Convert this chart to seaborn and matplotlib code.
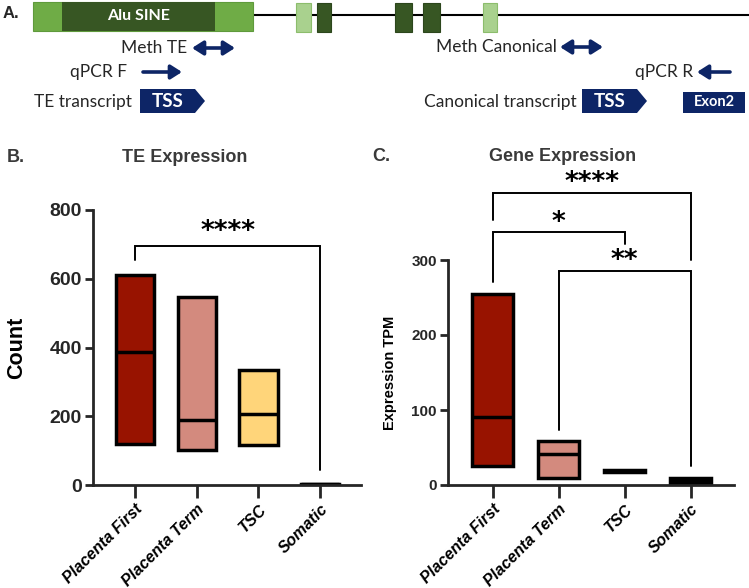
import pandas as pd
import seaborn as sns
import matplotlib.pyplot as plt
from matplotlib.patches import Rectangle, Polygon

#%% data
groups = ['Placenta First', 'Placenta Term', 'TSC', 'Somatic']
colors = ['#981300', '#d38a7e', '#ffd57a', '#c98a80']

# floating bars: min to max, line at median
te_min = [118, 102, 116, 0]
te_median = [387, 189, 207, 2]
te_max = [611, 547, 335, 4]

gene_min = [25, 10, 18, 1]
gene_median = [91, 41, 19, 5]
gene_max = [255, 59, 20, 10]


def floating_table(lo, med, hi):
    # five points per group so that box edges = min/max and median line = median
    rows = []
    for g, a, m, b in zip(groups, lo, med, hi):
        for v in (a, a, m, b, b):
            rows.append((g, v))
    return pd.DataFrame(rows, columns=['group', 'value'])


te_df = floating_table(te_min, te_median, te_max)
gene_df = floating_table(gene_min, gene_median, gene_max)

#%% style
sns.set_theme(style='ticks')
plt.rcParams['font.family'] = ['Liberation Sans', 'DejaVu Sans']
dark = '#3a3a3a'
navy = '#0d2566'

W, H = 749, 588
fig = plt.figure(figsize=(W / 100, H / 100), dpi=100)


def fx(px):
    return px / W


def fy(py):
    return 1 - py / H


#%% panel A schematic (pixel coordinates)
axa = fig.add_axes([0, fy(125), 1, 125 / H])
axa.set_xlim(0, W)
axa.set_ylim(125, 0)
axa.axis('off')

axa.plot([253, 749], [15, 15], color='black', lw=1.5, zorder=1)
axa.add_patch(Rectangle((33, 2), 220, 29, fc='#6fac46', ec='#5f9a3c', lw=0.8, zorder=2))
axa.add_patch(Rectangle((62, 2), 153, 29, fc='#375623', ec='none', zorder=3))
axa.text(139, 16, 'Alu SINE', color='white', fontsize=11.5, fontweight='bold',
         family='Lato', ha='center', va='center', zorder=4)
for x0, w, fc in [(296, 15, '#a9d18e'), (317, 14, '#375623'), (395, 17, '#375623'),
                  (423, 17, '#375623'), (483, 14, '#a9d18e')]:
    axa.add_patch(Rectangle((x0, 2.5), w, 29, fc=fc, ec='#8cbd6c' if fc == '#a9d18e' else '#2c461c',
                            lw=0.8, zorder=2))

txt = dict(fontsize=12.5, family='Lato', color='#262626', va='center', ha='right')
axa.text(187, 48, 'Meth TE', **txt)
axa.text(557, 47, 'Meth Canonical', **txt)
axa.text(127, 72, 'qPCR F', **txt)
axa.text(693, 72, 'qPCR R', **txt)
axa.text(132, 102, 'TE transcript', **txt)
axa.text(577, 102, 'Canonical transcript', **txt)

arr2 = dict(arrowstyle='<|-|>,head_length=0.55,head_width=0.35', color=navy, lw=2.6,
            shrinkA=0, shrinkB=0)
arr1 = dict(arrowstyle='-|>,head_length=0.55,head_width=0.35', color=navy, lw=2.6,
            shrinkA=0, shrinkB=0)
axa.annotate('', xy=(235, 48), xytext=(192, 48), arrowprops=arr2)
axa.annotate('', xy=(603, 47), xytext=(560, 47), arrowprops=arr2)
axa.annotate('', xy=(182, 72), xytext=(143, 72), arrowprops=arr1)
axa.annotate('', xy=(697, 72), xytext=(730, 72), arrowprops=arr1)

for x0 in (140, 582):
    axa.add_patch(Polygon([(x0, 89), (x0 + 55, 89), (x0 + 65, 101), (x0 + 55, 113), (x0, 113)],
                          closed=True, fc=navy, ec='none'))
    axa.text(x0 + 28, 101.5, 'TSS', color='white', fontsize=13.5, fontweight='bold',
             family='Lato', ha='center', va='center')
axa.add_patch(Rectangle((683, 92), 62, 21, fc=navy, ec='none'))
axa.text(714, 102.5, 'Exon2', color='white', fontsize=10.5, fontweight='bold',
         family='Lato', ha='center', va='center')
fig.text(fx(3), fy(14), 'A.', fontsize=12, fontweight='bold', color='#262626', va='center')

#%% panels B and C
axb = fig.add_axes([fx(93), fy(485), 268 / W, 275 / H])
axc = fig.add_axes([fx(448), fy(485), 286 / W, 225 / H])

box_kws = dict(x='group', y='value', hue='group', palette=colors, legend=False,
               width=0.62, linewidth=2.5, linecolor='black', showcaps=False,
               whis=(0, 100), showfliers=False, saturation=1)
sns.boxplot(data=te_df, ax=axb, **box_kws)
sns.boxplot(data=gene_df, ax=axc, **box_kws)

for ax in (axb, axc):
    sns.despine(ax=ax)
    ax.spines['left'].set_linewidth(2)
    ax.spines['bottom'].set_linewidth(2)
    ax.set_xlim(-0.68, 3.66)
    ax.set_xlabel('')
    ax.tick_params(axis='x', length=9, width=2, pad=3)
    ax.tick_params(axis='y', length=6, width=2, pad=2)
    ax.set_xticks(range(len(groups)))
    ax.set_xticklabels(groups, rotation=45, ha='right', rotation_mode='anchor',
                       fontsize=11.5, fontweight='bold', fontstyle='italic', color='black',
                       family='Liberation Sans')
    ax.set_facecolor('none')

axb.set_ylim(0, 800)
axb.set_yticks([0, 200, 400, 600, 800])
axb.set_yticklabels(['0', '200', '400', '600', '800'], fontsize=14, fontweight='bold',
                    family='Liberation Sans')
axb.set_ylabel('Count', fontsize=15.5, fontweight='bold', color='black', family='Liberation Sans')
axb.yaxis.set_label_coords(-0.245, 0.5)

axc.set_ylim(0, 300)
axc.set_yticks([0, 100, 200, 300])
axc.set_yticklabels(['0', '100', '200', '300'], fontsize=11, fontweight='bold',
                    family='Liberation Sans')
axc.set_ylabel('Expression TPM', fontsize=10.5, fontweight='bold', color='black',
               family='Liberation Sans')
axc.yaxis.set_label_coords(-0.18, 0.5)


def bracket(ax, i, j, top, left_end, right_end, label, label_y):
    ax.plot([i, i, j, j], [left_end, top, top, right_end], color='black', lw=1.4,
            clip_on=False, solid_joinstyle='miter')
    ax.text((i + j) / 2, label_y, label, ha='center', va='center', fontsize=19,
            fontweight='bold', family='DejaVu Sans', color='black')


bracket(axb, 0, 3, 695, 654, 44, '****', 735)
bracket(axc, 0, 3, 390, 353, 300, '****', 402)
bracket(axc, 0, 2, 337, 271, 322, '*', 350)
bracket(axc, 1, 3, 286, 73, 25, '**', 298)

fig.text(fx(185), fy(157), 'TE Expression', ha='center', va='center', fontsize=13,
         fontweight='bold', color=dark)
fig.text(fx(563), fy(156), 'Gene Expression', ha='center', va='center', fontsize=13,
         fontweight='bold', color=dark)
fig.text(fx(7), fy(157), 'B.', va='center', fontsize=13, fontweight='bold', color=dark)
fig.text(fx(372), fy(156), 'C.', va='center', fontsize=13, fontweight='bold', color=dark)

fig.savefig('out.png', dpi=100)
